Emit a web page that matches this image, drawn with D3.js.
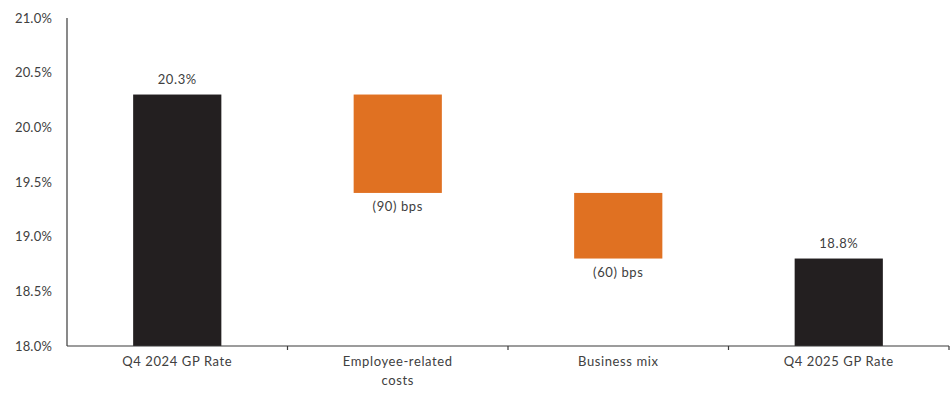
<!DOCTYPE html>
<html>
<head>
<meta charset="utf-8">
<script src="https://cdn.jsdelivr.net/npm/d3@7"></script>
<style>
  body { margin: 0; background: #fff; }
  text { font-family: Lato, "Open Sans", sans-serif; fill: #404040; }
</style>
</head>
<body>
<div id="chart"></div>
<script>
const categories = [["Q4 2024 GP Rate"], ["Employee-related", "costs"], ["Business mix"], ["Q4 2025 GP Rate"]];
const kinds = ["total", "delta", "delta", "total"];
const values = [20.3, -0.9, -0.6, 18.8];
const labels = ["20.3%", "(90) bps", "(60) bps", "18.8%"];
const yTicks = [18.0, 18.5, 19.0, 19.5, 20.0, 20.5, 21.0];

const width = 950, height = 394;
const marginTop = 18, marginRight = 1, marginBottom = 48, marginLeft = 67;

// running level for the waterfall
let level = 0;
const bars = values.map((v, i) => {
  let y0, y1;
  if (kinds[i] === "total") { y0 = 18; y1 = v; level = v; }
  else { y0 = level; y1 = level + v; level = y1; }
  return {i, y0, y1, kind: kinds[i], label: labels[i]};
});

const svg = d3.select("#chart").append("svg")
    .attr("width", width)
    .attr("height", height);

const x = d3.scaleBand(d3.range(categories.length), [marginLeft, width - marginRight])
    .paddingInner(0.6)
    .paddingOuter(0.3);
const y = d3.scaleLinear([18, 21], [height - marginBottom, marginTop]);

// y axis (labels only + line)
svg.append("line")
    .attr("x1", marginLeft).attr("x2", marginLeft)
    .attr("y1", y(21)).attr("y2", y(18))
    .attr("stroke", "#3b3b3b").attr("stroke-width", 1.2);

svg.append("g")
  .selectAll("text")
  .data(yTicks)
  .join("text")
    .attr("x", 52)
    .attr("y", d => y(d))
    .attr("dy", "0.35em")
    .attr("text-anchor", "end")
    .style("font-size", "13px")
    .style("letter-spacing", "0.2px")
    .text(d => d.toFixed(1) + "%");

// bars
svg.append("g")
  .selectAll("rect")
  .data(bars)
  .join("rect")
    .attr("x", d => x(d.i))
    .attr("width", x.bandwidth())
    .attr("y", d => y(Math.max(d.y0, d.y1)))
    .attr("height", d => Math.abs(y(d.y0) - y(d.y1)))
    .attr("fill", d => d.kind === "total" ? "#231f20" : "#e07122");

// value labels
svg.append("g")
  .selectAll("text")
  .data(bars)
  .join("text")
    .attr("x", d => x(d.i) + x.bandwidth() / 2)
    .attr("y", d => d.kind === "total" ? y(d.y1) - 15 : y(d.y1) + 14)
    .attr("dy", "0.35em")
    .attr("text-anchor", "middle")
    .style("font-size", "13px")
    .style("letter-spacing", "0.6px")
    .text(d => d.label);

// x axis
const step = x.step();
const xAxis = svg.append("g");
xAxis.append("line")
    .attr("x1", marginLeft).attr("x2", width - marginRight)
    .attr("y1", y(18)).attr("y2", y(18))
    .attr("stroke", "#3b3b3b").attr("stroke-width", 1.2);
xAxis.selectAll("line.tick")
  .data(d3.range(1, categories.length + 1))
  .join("line")
    .attr("class", "tick")
    .attr("x1", d => x(d - 1) - x.paddingOuter() * step + step)
    .attr("x2", d => x(d - 1) - x.paddingOuter() * step + step)
    .attr("y1", y(18)).attr("y2", y(18) + 4)
    .attr("stroke", "#3b3b3b").attr("stroke-width", 1.2);

xAxis.selectAll("text")
  .data(categories)
  .join("text")
    .attr("x", (d, i) => x(i) + x.bandwidth() / 2)
    .attr("y", y(18) + 15)
    .attr("dy", "0.35em")
    .attr("text-anchor", "middle")
    .style("font-size", "13px")
    .style("letter-spacing", "0.6px")
    .selectAll("tspan")
    .data(d => d)
    .join("tspan")
      .attr("x", function() { return this.parentNode.getAttribute("x"); })
      .attr("dy", (d, j) => j === 0 ? "0.35em" : "1.5em")
      .text(d => d);
</script>
</body>
</html>
